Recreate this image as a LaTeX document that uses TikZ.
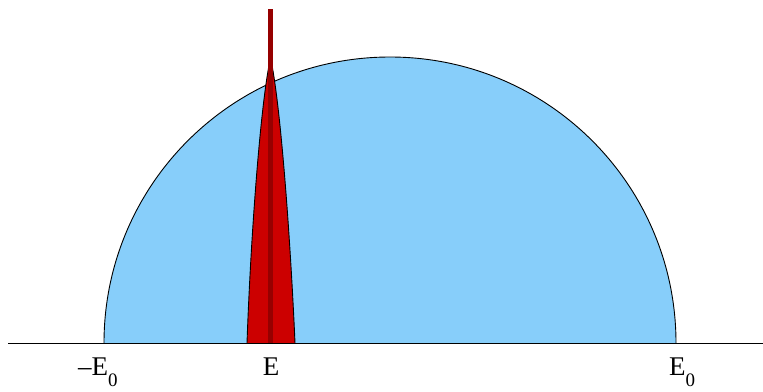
\documentclass[tikz,border=0pt]{standalone}
\usepackage{fontspec}
\setmainfont{Liberation Serif}
\definecolor{skyfill}{RGB}{135,206,250}
\definecolor{peakred}{RGB}{204,0,0}
\definecolor{darkline}{RGB}{150,0,0}
\newcommand{\subzero}{\raisebox{-11pt}{\fontsize{19}{19}\selectfont 0}}
\tikzset{
  outline/.style={draw=black, line width=0.9pt},
  lbl/.style={anchor=base, inner sep=0pt, font=\fontsize{27}{27}\selectfont}
}
\begin{document}
\begin{tikzpicture}[x=1pt,y=-1pt]
\useasboundingbox (0,0) rectangle (763,391);
% semicircle
\path[outline, fill=skyfill] (104,343) arc[start angle=180, end angle=360, radius=286];
% peak
\path[outline, fill=peakred, line join=round] (247,343) .. controls (251,230) and (261,100) .. (270.5,58)
   .. controls (280,100) and (290,230) .. (295,343);
% dark line
\fill[darkline] (268,9) rectangle (273,343);
% baseline
\draw[line width=0.9pt] (8,343) -- (763,343);
% labels
\node[lbl, anchor=base west] (mE0) at (78,375) {–E\subzero};
\node[lbl] (E) at (271,375) {E};
\node[lbl, anchor=base west] (E0) at (669,375) {E\subzero};
\end{tikzpicture}
\end{document}
